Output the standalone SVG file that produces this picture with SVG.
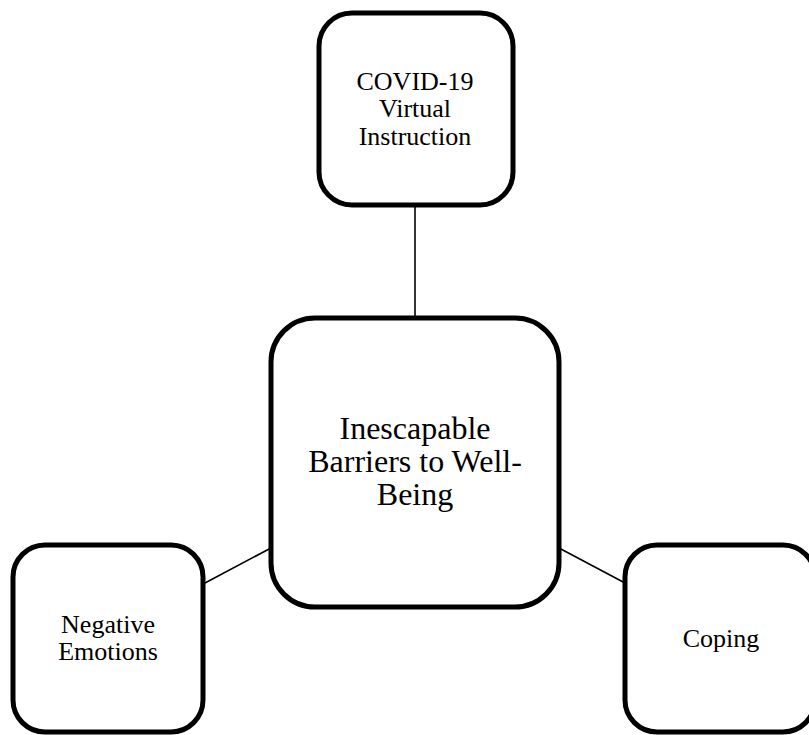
<svg xmlns="http://www.w3.org/2000/svg" width="809" height="735" viewBox="0 0 809 735">
  <style>
    .box { fill: #ffffff; stroke: #000000; stroke-width: 5; }
    .link { stroke: #000000; stroke-width: 1.6; fill: none; }
    .label { font-family: "Liberation Serif", "Times New Roman", serif; fill: #000000; text-anchor: middle; }
    .small { font-size: 26px; }
    .large { font-size: 32px; }
  </style>
  <rect x="0" y="0" width="809" height="735" fill="#ffffff"/>

  <!-- connectors between the hub and the three themes -->
  <g id="connectors">
    <line class="link" x1="415" y1="205" x2="415" y2="318"/>
    <line class="link" x1="205" y1="583" x2="271" y2="548"/>
    <line class="link" x1="559" y1="548" x2="625" y2="583"/>
  </g>

  <g id="node-covid">
    <rect class="box" x="319" y="13" width="194" height="192" rx="33" ry="33"/>
    <text class="label small" x="415" y="90">COVID-19</text>
    <text class="label small" x="415" y="117">Virtual</text>
    <text class="label small" x="415" y="145">Instruction</text>
  </g>

  <g id="node-barriers">
    <rect class="box" x="271" y="318" width="288" height="289" rx="44" ry="44"/>
    <text class="label large" x="415" y="439">Inescapable</text>
    <text class="label large" x="415" y="472">Barriers to Well-</text>
    <text class="label large" x="415" y="505">Being</text>
  </g>

  <g id="node-negative">
    <rect class="box" x="13" y="545" width="190" height="187" rx="32" ry="32"/>
    <text class="label small" x="108" y="633">Negative</text>
    <text class="label small" x="108" y="660">Emotions</text>
  </g>

  <g id="node-coping">
    <rect class="box" x="625" y="545" width="190" height="187" rx="32" ry="32"/>
    <text class="label small" x="721" y="647">Coping</text>
  </g>
</svg>
